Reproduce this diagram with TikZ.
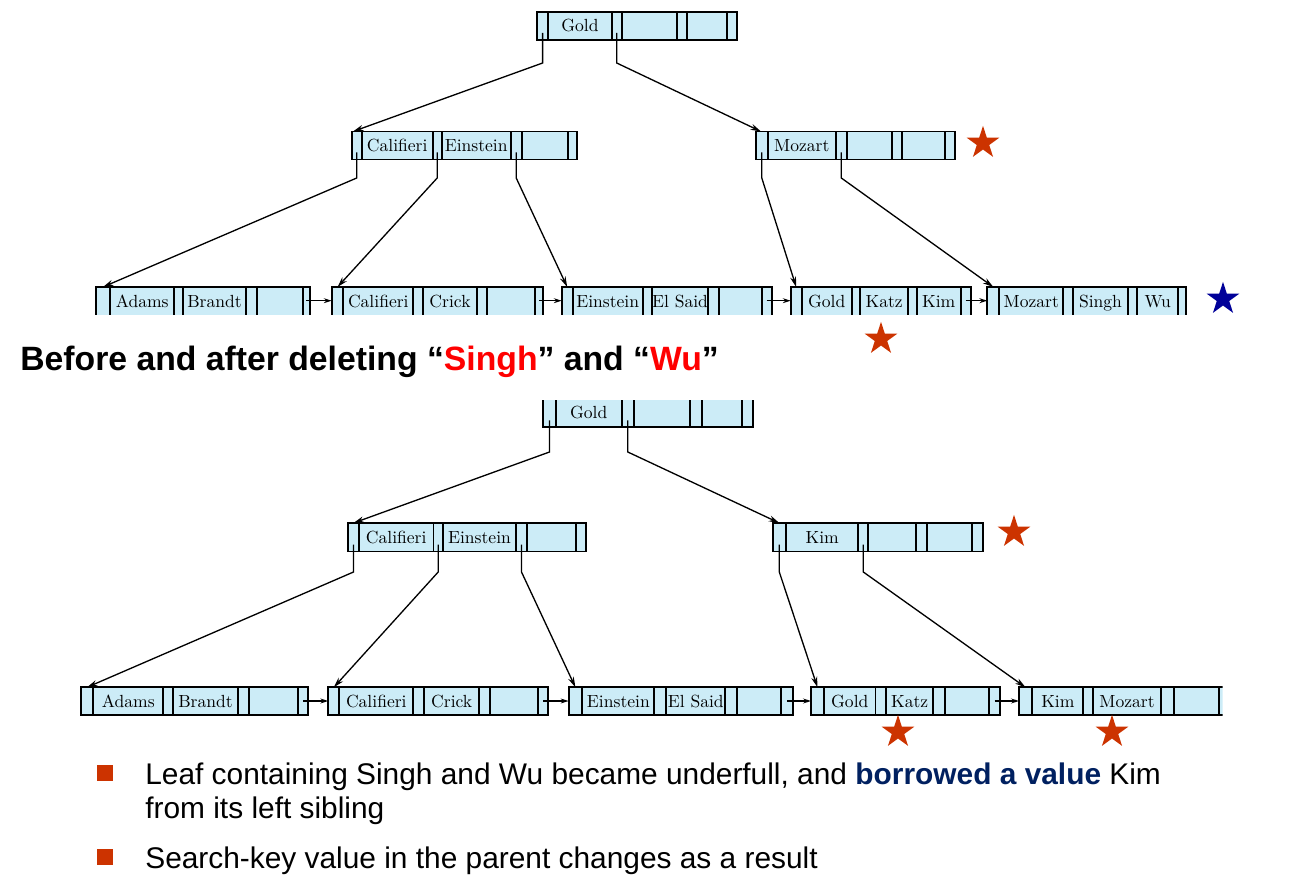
\documentclass[tikz,border=0pt]{standalone}
\usepackage{fontspec}
\newfontfamily\arial{Liberation Sans}
\usetikzlibrary{arrows.meta,shapes.geometric}

\definecolor{azzurrocella}{RGB}{204,236,247}
\definecolor{rossostella}{RGB}{204,51,0}
\definecolor{blustella}{RGB}{0,0,153}
\definecolor{rossovivo}{RGB}{255,0,0}
\definecolor{bluscuro}{RGB}{0,32,96}

\begin{document}
\begin{tikzpicture}[
  x=0.02cm, y=-0.02cm,
  cella/.style={fill=azzurrocella},
  bordo/.style={draw=black, line width=1.1pt},
  filo/.style={draw=black, line width=0.75pt},
  freccia/.style={filo, -{Stealth[length=6pt, width=3.4pt]}},
  frecciacorta/.style={filo, -{Stealth[length=4.5pt, width=2.8pt]}},
  chiave/.style={anchor=base, inner sep=0pt, font=\fontsize{10}{12}\selectfont},
  stella/.style={star, star points=5, star point ratio=2.618, inner sep=0pt, minimum size=19.5pt},
  titolo/.style={anchor=base west, inner sep=0pt, font=\arial\bfseries\fontsize{19.2}{22}\selectfont},
  testo/.style={anchor=base west, inner sep=0pt, font=\arial\fontsize{17}{20}\selectfont}
]
\useasboundingbox (0,0) rectangle (1295,878);

%--------------------------------------------------------------
% Albero prima della cancellazione: radice
%--------------------------------------------------------------
\fill[cella] (537,12) rectangle (736.7,40);
\foreach \x in {548.3,611.7,621.7,676.7,686.7,726.7} \draw[bordo] (\x,12) -- (\x,40);
\draw[bordo] (537,12) rectangle (736.7,40);
\node[chiave] (a-gold) at (580,32) {Gold};
\coordinate (a-p1) at (542.6,33);
\coordinate (a-p2) at (616.7,33);

%--------------------------------------------------------------
% Nodi interni: Califieri/Einstein e Mozart
%--------------------------------------------------------------
\fill[cella] (351.7,131.5) rectangle (577.3,159.5);
\foreach \x in {361.7,432.7,441.7,510.7,521.7,567.7} \draw[bordo] (\x,131.5) -- (\x,159.5);
\draw[bordo] (351.7,131.5) rectangle (577.3,159.5);
\node[chiave] (b-califieri) at (397.2,151.5) {Califieri};
\node[chiave] (b-einstein) at (476.2,151.5) {Einstein};
\coordinate (b-in) at (353,131.5);
\coordinate (b-p1) at (356.7,152.5);
\coordinate (b-p2) at (437.2,152.5);
\coordinate (b-p3) at (516.2,152.5);

\fill[cella] (756,131.5) rectangle (955,159.5);
\foreach \x in {767.7,836,846.7,891.7,902.3,945} \draw[bordo] (\x,131.5) -- (\x,159.5);
\draw[bordo] (756,131.5) rectangle (955,159.5);
\node[chiave] (c-mozart) at (801.8,151.5) {Mozart};
\coordinate (c-in) at (761,131.5);
\coordinate (c-p1) at (761.8,152.5);
\coordinate (c-p2) at (841.3,152.5);

%--------------------------------------------------------------
% Foglie (tagliate in basso come nella figura)
%--------------------------------------------------------------
\begin{scope}
\clip (0,0) rectangle (1295,314.5);
\fill[cella] (96,287) rectangle (310,320);
\foreach \x in {110,174.3,183.3,245.7,256.7,302.7} \draw[bordo] (\x,287) -- (\x,320);
\draw[bordo] (96,320) -- (96,287) -- (310,287) -- (310,320);
\fill[cella] (331.7,287) rectangle (543.3,320);
\foreach \x in {343.3,413.3,423.3,476.7,486.7,535} \draw[bordo] (\x,287) -- (\x,320);
\draw[bordo] (331.7,320) -- (331.7,287) -- (543.3,287) -- (543.3,320);
\fill[cella] (561.7,287) rectangle (771.7,320);
\foreach \x in {572.7,642.7,651.7,708.3,719.3,761.7} \draw[bordo] (\x,287) -- (\x,320);
\draw[bordo] (561.7,320) -- (561.7,287) -- (771.7,287) -- (771.7,320);
\fill[cella] (790.7,287) rectangle (970.7,320);
\foreach \x in {801.7,851.7,860,908.3,916.7,960.7} \draw[bordo] (\x,287) -- (\x,320);
\draw[bordo] (790.7,320) -- (790.7,287) -- (970.7,287) -- (970.7,320);
\fill[cella] (987.3,287) rectangle (1186,320);
\foreach \x in {999.3,1063.3,1073.3,1127.7,1137.3,1178.3} \draw[bordo] (\x,287) -- (\x,320);
\draw[bordo] (987.3,320) -- (987.3,287) -- (1186,287) -- (1186,320);
\end{scope}
\node[chiave] (f1-adams) at (142.2,307.3) {Adams};
\node[chiave] (f1-brandt) at (214.5,307.3) {Brandt};
\node[chiave] (f2-califieri) at (378.3,307.3) {Califieri};
\node[chiave] (f2-crick) at (450,307.3) {Crick};
\node[chiave] (f3-einstein) at (607.7,307.3) {Einstein};
\node[chiave] (f3-elsaid) at (680,307.3) {El Said};
\node[chiave] (f4-gold) at (826.7,307.3) {Gold};
\node[chiave] (f4-katz) at (884.2,307.3) {Katz};
\node[chiave] (f4-kim) at (938.7,307.3) {Kim};
\node[chiave] (f5-mozart) at (1031.3,307.3) {Mozart};
\node[chiave] (f5-singh) at (1100.5,307.3) {Singh};
\node[chiave] (f5-wu) at (1157.8,307.3) {Wu};
\coordinate (f1-in) at (103,287);
\coordinate (f2-in) at (337.5,287);
\coordinate (f3-in) at (567.2,287);
\coordinate (f4-in) at (796.2,287);
\coordinate (f5-in) at (993.3,287);
\coordinate (f1-out) at (306.3,300.7);
\coordinate (f2-out) at (539.2,300.7);
\coordinate (f3-out) at (766.7,300.7);
\coordinate (f4-out) at (965.7,300.7);

% puntatori
\draw[freccia] (a-p1) -- ++(0,30) -- (b-in);
\draw[freccia] (a-p2) -- ++(0,30) -- (c-in);
\draw[freccia] (b-p1) -- ++(0,25.5) -- (f1-in);
\draw[freccia] (b-p2) -- ++(0,25.5) -- (f2-in);
\draw[freccia] (b-p3) -- ++(0,25.5) -- (f3-in);
\draw[freccia] (c-p1) -- ++(0,25.5) -- (f4-in);
\draw[freccia] (c-p2) -- ++(0,25.5) -- (f5-in);
\draw[frecciacorta] (f1-out) -- (331.7,300.7);
\draw[frecciacorta] (f2-out) -- (561.7,300.7);
\draw[frecciacorta] (f3-out) -- (790.7,300.7);
\draw[frecciacorta] (f4-out) -- (987.3,300.7);

\node[stella, fill=rossostella] (s1) at (983,143) {};
\node[stella, fill=blustella] (s2) at (1223,299) {};
\node[stella, fill=rossostella] (s3) at (881,339) {};

%--------------------------------------------------------------
% Titolo
%--------------------------------------------------------------
\node[titolo] (titolo) at (20,371) {Before and after deleting “{\color{rossovivo}Singh}” and “{\color{rossovivo}Wu}”};

%--------------------------------------------------------------
% Albero dopo la cancellazione: radice (tagliata in alto)
%--------------------------------------------------------------
\begin{scope}
\clip (0,400.3) rectangle (1295,878);
\fill[cella] (543.3,397) rectangle (752.7,427.3);
\foreach \x in {555.7,621.7,634,690,701.7,741.7} \draw[bordo] (\x,397) -- (\x,427.3);
\draw[bordo] (543.3,397) rectangle (752.7,427.3);
\end{scope}
\node[chiave] (g-gold) at (588.7,418.5) {Gold};
\coordinate (g-p1) at (549.5,420.3);
\coordinate (g-p2) at (627.8,420.3);

%--------------------------------------------------------------
% Nodi interni: Califieri/Einstein e Kim
%--------------------------------------------------------------
\fill[cella] (348,523) rectangle (586,551.5);
\foreach \x in {359,433.5,443,516,527,576} \draw[bordo] (\x,523) -- (\x,551.5);
\draw[bordo] (348,523) rectangle (586,551.5);
\node[chiave] (h-califieri) at (396.2,543) {Califieri};
\node[chiave] (h-einstein) at (479.5,543) {Einstein};
\coordinate (h-in) at (353.5,523);
\coordinate (h-p1) at (353.5,544.5);
\coordinate (h-p2) at (438.2,544.5);
\coordinate (h-p3) at (521.5,544.5);

\fill[cella] (772.7,523) rectangle (982.7,551.5);
\foreach \x in {786,858.3,868.3,916,927.3,971.7} \draw[bordo] (\x,523) -- (\x,551.5);
\draw[bordo] (772.7,523) rectangle (982.7,551.5);
\node[chiave] (k-kim) at (822.2,543) {Kim};
\coordinate (k-in) at (779.3,523);
\coordinate (k-p1) at (779.3,544.5);
\coordinate (k-p2) at (863.3,544.5);

%--------------------------------------------------------------
% Foglie dopo la ridistribuzione
%--------------------------------------------------------------
\fill[cella] (80.7,687.3) rectangle (308.3,715);
\foreach \x in {93.3,163.3,172.7,238.3,249.3,298.3} \draw[bordo] (\x,687.3) -- (\x,715);
\draw[bordo] (80.7,687.3) rectangle (308.3,715);
\fill[cella] (328.3,687.3) rectangle (548.3,715);
\foreach \x in {339.3,413.3,424,479.3,490,538.3} \draw[bordo] (\x,687.3) -- (\x,715);
\draw[bordo] (328.3,687.3) rectangle (548.3,715);
\fill[cella] (568.6,687.3) rectangle (792.6,715);
\foreach \x in {582.3,654.4,666.4,725.2,736.8,781} \draw[bordo] (\x,687.3) -- (\x,715);
\draw[bordo] (568.6,687.3) rectangle (792.6,715);
\fill[cella] (811,687.3) rectangle (1000,715);
\foreach \x in {824,875.5,886,933.4,945.4,989.2} \draw[bordo] (\x,687.3) -- (\x,715);
\draw[bordo] (811,687.3) rectangle (1000,715);
\begin{scope}
\clip (0,600) rectangle (1222.5,760);
\fill[cella] (1019,687.3) rectangle (1232,715);
\foreach \x in {1032,1082.7,1093,1160.9,1173.7,1218.8} \draw[bordo] (\x,687.3) -- (\x,715);
\draw[bordo] (1019,687.3) rectangle (1232,715);
\end{scope}
\node[chiave] (m1-adams) at (128.3,707.3) {Adams};
\node[chiave] (m1-brandt) at (205.5,707.3) {Brandt};
\node[chiave] (m2-califieri) at (376.3,707.3) {Califieri};
\node[chiave] (m2-crick) at (451.7,707.3) {Crick};
\node[chiave] (m3-einstein) at (618.4,707.3) {Einstein};
\node[chiave] (m3-elsaid) at (695.8,707.3) {El Said};
\node[chiave] (m4-gold) at (849.8,707.3) {Gold};
\node[chiave] (m4-katz) at (909.7,707.3) {Katz};
\node[chiave] (m5-kim) at (1057.9,707.3) {Kim};
\node[chiave] (m5-mozart) at (1127,707.3) {Mozart};
\coordinate (m1-in) at (87,687.3);
\coordinate (m2-in) at (333.8,687.3);
\coordinate (m3-in) at (575.4,687.3);
\coordinate (m4-in) at (817.5,687.3);
\coordinate (m5-in) at (1025.5,687.3);
\coordinate (m1-out) at (303.3,701);
\coordinate (m2-out) at (543.3,701);
\coordinate (m3-out) at (786.8,701);
\coordinate (m4-out) at (994.6,701);

% puntatori
\draw[freccia] (g-p1) -- ++(0,31.7) -- (h-in);
\draw[freccia] (g-p2) -- ++(0,31.7) -- (k-in);
\draw[freccia] (h-p1) -- ++(0,27.5) -- (m1-in);
\draw[freccia] (h-p2) -- ++(0,27.5) -- (m2-in);
\draw[freccia] (h-p3) -- ++(0,27.5) -- (m3-in);
\draw[freccia] (k-p1) -- ++(0,27.5) -- (m4-in);
\draw[freccia] (k-p2) -- ++(0,27.5) -- (m5-in);
\draw[frecciacorta] (m1-out) -- (328.3,701);
\draw[frecciacorta] (m2-out) -- (568.6,701);
\draw[frecciacorta] (m3-out) -- (811,701);
\draw[frecciacorta] (m4-out) -- (1019,701);

\node[stella, fill=rossostella] (s4) at (1014,532) {};
\node[stella, fill=rossostella] (s5) at (898,732) {};
\node[stella, fill=rossostella] (s6) at (1112,732) {};

%--------------------------------------------------------------
% Note a punti
%--------------------------------------------------------------
\fill[rossostella] (97,765) rectangle (113,781);
\fill[rossostella] (97,849) rectangle (113,865);
\node[testo] (nota1) at (145,784) {Leaf containing Singh and Wu became underfull, and {\bfseries\color{bluscuro}borrowed a value} Kim};
\node[testo] (nota1b) at (145,818) {from its left sibling};
\node[testo] (nota2) at (145,868) {Search-key value in the parent changes as a result};

\end{tikzpicture}
\end{document}
